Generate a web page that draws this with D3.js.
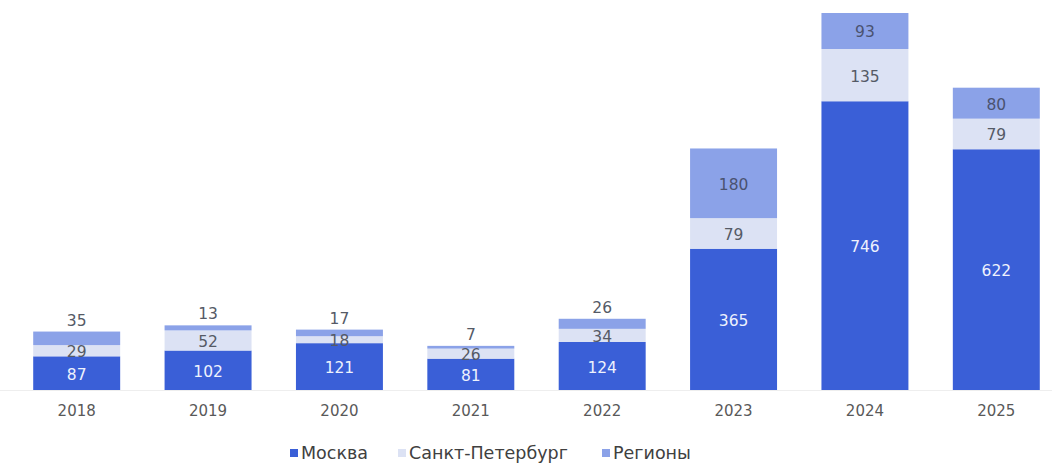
<!DOCTYPE html>
<html>
<head>
<meta charset="utf-8">
<script src="https://cdn.jsdelivr.net/npm/d3@7"></script>
<style>
  html, body { margin: 0; padding: 0; background: #fff; }
  svg { display: block; }
  text { font-family: "DejaVu Sans", Verdana, sans-serif; }
</style>
</head>
<body>
<svg id="chart" width="1059" height="463"></svg>
<script>
// Годы и значения по сериям
const years = ["2018", "2019", "2020", "2021", "2022", "2023", "2024", "2025"];
const moscow = [87, 102, 121, 81, 124, 365, 746, 622];
const spb = [29, 52, 18, 26, 34, 79, 135, 79];
const regions = [35, 13, 17, 7, 26, 180, 93, 80];

const seriesNames = ["Москва", "Санкт-Петербург", "Регионы"];
const seriesKeys = ["moscow", "spb", "regions"];
const colors = ["#3a5fd7", "#dce2f4", "#8ba2e8"];
const labelColors = ["#eef2fd", "#555a66", "#4a5270"];

const rows = years.map((y, i) => ({ year: y, moscow: moscow[i], spb: spb[i], regions: regions[i] }));

const svg = d3.select("#chart");
const baseY = 390, topY = 13;

const x = d3.scaleBand()
  .domain(years)
  .range([11, 1062])
  .paddingInner(0.338)
  .paddingOuter(0.169);

const maxTotal = d3.max(rows, d => d.moscow + d.spb + d.regions);
const y = d3.scaleLinear().domain([0, maxTotal]).range([baseY, topY]);

const stack = d3.stack().keys(seriesKeys);
const layers = stack(rows);

// Базовая линия оси
svg.append("line")
  .attr("x1", 0).attr("x2", 1052)
  .attr("y1", baseY + 0.5).attr("y2", baseY + 0.5)
  .attr("stroke", "#eeeeee").attr("stroke-width", 1);

// Сегменты столбцов
const g = svg.append("g");
layers.forEach((layer, li) => {
  g.selectAll(null)
    .data(layer)
    .join("rect")
    .attr("x", d => x(d.data.year))
    .attr("width", x.bandwidth())
    .attr("y", d => y(d[1]))
    .attr("height", d => y(d[0]) - y(d[1]))
    .attr("fill", colors[li]);
});

// Подписи значений
layers.forEach((layer, li) => {
  g.selectAll(null)
    .data(layer)
    .join("text")
    .attr("x", d => x(d.data.year) + x.bandwidth() / 2)
    .attr("y", d => {
      const h = y(d[0]) - y(d[1]);
      if (li === 2 && h < 20) return y(d[1]) - 11;
      return (y(d[0]) + y(d[1])) / 2 + 1.5;
    })
    .attr("text-anchor", "middle")
    .attr("dominant-baseline", "central")
    .attr("font-size", 15.5)
    .attr("fill", d => {
      const h = y(d[0]) - y(d[1]);
      if (li === 2 && h < 20) return "#555a66";
      return labelColors[li];
    })
    .text(d => d[1] - d[0]);
});

// Ось X
const xAxis = svg.append("g")
  .attr("transform", `translate(0,${baseY})`)
  .call(d3.axisBottom(x).tickSize(0).tickPadding(15));
xAxis.select(".domain").remove();
xAxis.selectAll("text")
  .attr("font-family", "DejaVu Sans, Verdana, sans-serif")
  .attr("font-size", 15)
  .attr("fill", "#595959");

// Легенда
const legend = svg.append("g").attr("transform", "translate(0,453)");
const legendX = [290, 398, 602];
seriesNames.forEach((name, i) => {
  const item = legend.append("g").attr("transform", `translate(${legendX[i]},0)`);
  item.append("rect")
    .attr("x", 0).attr("y", -4).attr("width", 8).attr("height", 8)
    .attr("fill", colors[i]);
  item.append("text")
    .attr("x", 11).attr("y", 0)
    .attr("dominant-baseline", "central")
    .attr("font-size", 17.5)
    .attr("fill", "#404040")
    .text(name);
});
</script>
</body>
</html>
